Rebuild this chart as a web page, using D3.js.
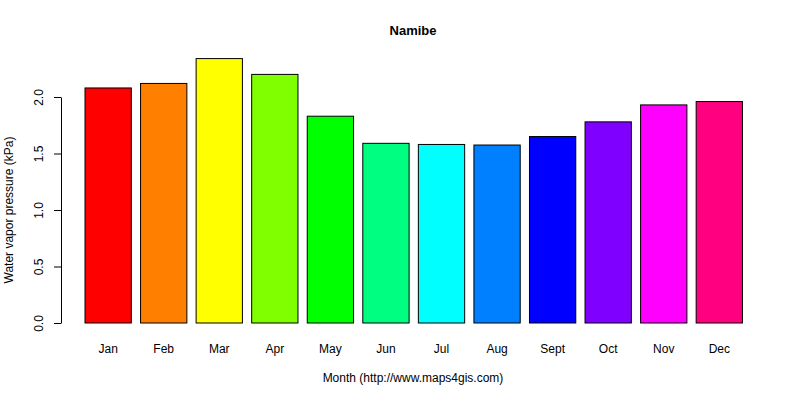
<!DOCTYPE html>
<html><head><meta charset="utf-8">
<script src="https://cdn.jsdelivr.net/npm/d3@7"></script>
<style>body{margin:0;background:#fff}text{font-family:"Liberation Sans",Arial,sans-serif}</style>
</head><body><svg id="c" width="800" height="400"></svg>
<script>
const months = ["Jan","Feb","Mar","Apr","May","Jun","Jul","Aug","Sept","Oct","Nov","Dec"];
const values = [2.08,2.12,2.34,2.20,1.83,1.59,1.58,1.575,1.65,1.78,1.93,1.96];
const colors = ["#FF0000","#FF8000","#FFFF00","#80FF00","#00FF00","#00FF80","#00FFFF","#0080FF","#0000FF","#8000FF","#FF00FF","#FF0080"];
const yTicks = [0,0.5,1.0,1.5,2.0];

const svg = d3.select("#c");
const unit = 46.3;
const x = d3.scaleLinear().domain([0.2,1.2]).range([85,85+unit]);
const y = d3.scaleLinear().domain([0,2]).range([323,97]);

svg.selectAll("rect.bar").data(values).join("rect")
  .attr("x",(d,i)=>x(0.2+1.2*i)).attr("width",x(1.2)-x(0.2))
  .attr("y",d=>y(d)).attr("height",d=>y(0)-y(d))
  .attr("fill",(d,i)=>colors[i]).attr("stroke","#000").attr("stroke-width",1);

const ya = svg.append("g").attr("transform","translate(61,0)")
  .call(d3.axisLeft(y).tickValues(yTicks).tickFormat(d3.format(".1f")).tickSize(7).tickSizeOuter(0));
ya.select(".domain").attr("stroke","#000");
ya.selectAll(".tick text").attr("font-size",12).attr("fill","#000")
  .attr("transform","rotate(-90)").attr("x",0).attr("y",-18).attr("dy","0").attr("text-anchor","middle");

svg.selectAll("text.mon").data(months).join("text").attr("class","mon")
  .attr("x",(d,i)=>x(0.7+1.2*i)).attr("y",353).attr("text-anchor","middle")
  .attr("font-size",12).text(d=>d);

svg.append("text").attr("x",413).attr("y",35).attr("text-anchor","middle")
  .attr("font-size",13).attr("font-weight","bold").text("Namibe");
svg.append("text").attr("x",413).attr("y",382).attr("text-anchor","middle")
  .attr("font-size",12).text("Month (http://www.maps4gis.com)");
svg.append("text").attr("transform","translate(13,210) rotate(-90)").attr("text-anchor","middle")
  .attr("font-size",12).text("Water vapor pressure (kPa)");
</script></body></html>
